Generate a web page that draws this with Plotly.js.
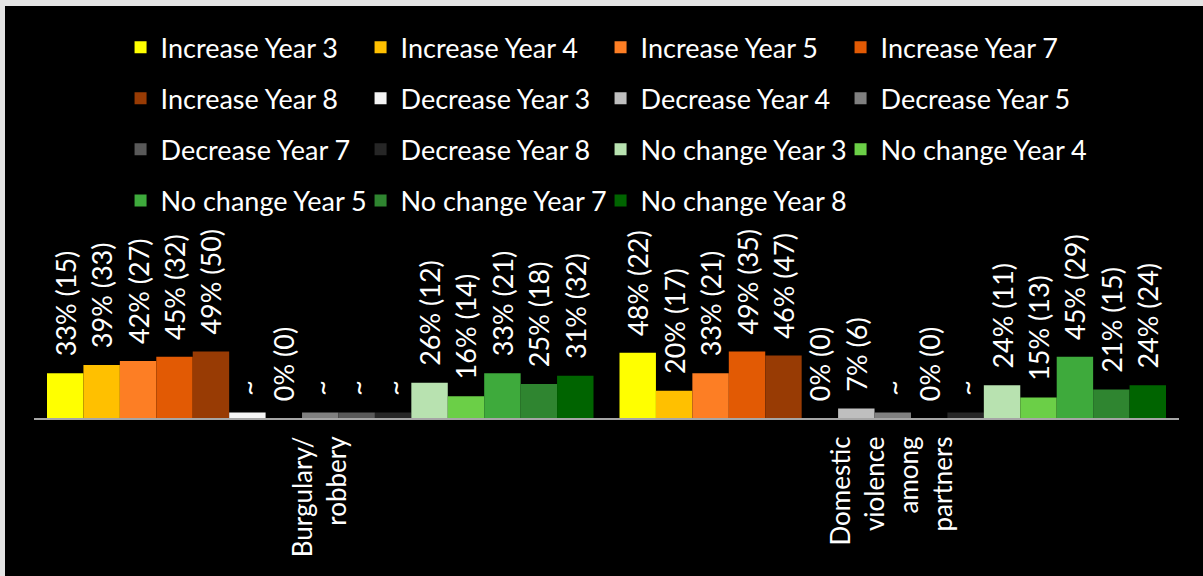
<!DOCTYPE html>
<html>
<head>
<meta charset="utf-8">
<script src="https://cdn.plot.ly/plotly-3.0.1.min.js"></script>
<style>
  html, body { margin: 0; padding: 0; background: #e4e4e4; width: 1203px; height: 576px; overflow: hidden; }
  #chart { position: absolute; left: 5px; top: 6px; width: 1198px; height: 570px; }
</style>
</head>
<body>
<div id="chart"></div>
<script>
// Categories (x axis)
const categories = ["Burgulary/<br>robbery", "Domestic<br>violence<br>among<br>partners"];

// Series names
const seriesNames = [
  "Increase Year 3", "Increase Year 4", "Increase Year 5", "Increase Year 7",
  "Increase Year 8", "Decrease Year 3", "Decrease Year 4", "Decrease Year 5",
  "Decrease Year 7", "Decrease Year 8", "No change Year 3", "No change Year 4",
  "No change Year 5", "No change Year 7", "No change Year 8"
];

// Percent values [Burglary, Domestic violence]
const increaseY3 = [33, 48];
const increaseY4 = [39, 20];
const increaseY5 = [42, 33];
const increaseY7 = [45, 49];
const increaseY8 = [49, 46];
const decreaseY3 = [4, 0];
const decreaseY4 = [0, 7];
const decreaseY5 = [4, 4];
const decreaseY7 = [4, 0];
const decreaseY8 = [4, 4];
const noChangeY3 = [26, 24];
const noChangeY4 = [16, 15];
const noChangeY5 = [33, 45];
const noChangeY7 = [25, 21];
const noChangeY8 = [31, 24];

// Bar labels [Burglary, Domestic violence]
const labelsIncY3 = ["33% (15)", "48% (22)"];
const labelsIncY4 = ["39% (33)", "20% (17)"];
const labelsIncY5 = ["42% (27)", "33% (21)"];
const labelsIncY7 = ["45% (32)", "49% (35)"];
const labelsIncY8 = ["49% (50)", "46% (47)"];
const labelsDecY3 = ["~", "0% (0)"];
const labelsDecY4 = ["0% (0)", "7% (6)"];
const labelsDecY5 = ["~", "~"];
const labelsDecY7 = ["~", "0% (0)"];
const labelsDecY8 = ["~", "~"];
const labelsNcY3 = ["26% (12)", "24% (11)"];
const labelsNcY4 = ["16% (14)", "15% (13)"];
const labelsNcY5 = ["33% (21)", "45% (29)"];
const labelsNcY7 = ["25% (18)", "21% (15)"];
const labelsNcY8 = ["31% (32)", "24% (24)"];

const seriesValues = [increaseY3, increaseY4, increaseY5, increaseY7, increaseY8,
  decreaseY3, decreaseY4, decreaseY5, decreaseY7, decreaseY8,
  noChangeY3, noChangeY4, noChangeY5, noChangeY7, noChangeY8];
const seriesLabels = [labelsIncY3, labelsIncY4, labelsIncY5, labelsIncY7, labelsIncY8,
  labelsDecY3, labelsDecY4, labelsDecY5, labelsDecY7, labelsDecY8,
  labelsNcY3, labelsNcY4, labelsNcY5, labelsNcY7, labelsNcY8];

const colors = [
  "#FFFF00", "#FFC000", "#FD7E24", "#E25A04", "#983B04",
  "#F4F4F4", "#BFBFBF", "#808080", "#595959", "#262626",
  "#B8E2B0", "#6BCF47", "#3EAA3C", "#2F8530", "#006400"
];

const FONT = "Lato, 'Open Sans', sans-serif";
const NCOLS = 4;
const legendNames = ["legend", "legend2", "legend3", "legend4"];
const pad = "\u00a0\u00a0";

// Legend laid out in 4 columns (one vertical legend per column), row-major order
const traces = seriesNames.map((name, i) => ({
  type: "bar",
  name: name,
  x: categories,
  y: seriesValues[i],
  text: seriesLabels[i].map(t => pad + t),
  textposition: "outside",
  textangle: -90,
  constraintext: "none",
  cliponaxis: false,
  textfont: { family: FONT, size: 27, color: "#FFFFFF" },
  marker: { color: colors[i], line: { width: 0 } },
  legend: legendNames[i % NCOLS],
  legendgroup: "g" + i,
  hoverinfo: "skip"
}));

function mkLegend(col) {
  return {
    orientation: "v",
    x: 0.0756 + col * 240 / 1145, xanchor: "left",
    y: 2.194, yanchor: "top",
    bgcolor: "rgba(0,0,0,0)",
    font: { family: FONT, size: 27, color: "#FFFFFF" },
    itemwidth: 30,
    tracegroupgap: 13,
    traceorder: "grouped"
  };
}

const layout = {
  width: 1198,
  height: 570,
  paper_bgcolor: "#000000",
  plot_bgcolor: "#000000",
  margin: { l: 29, r: 24, t: 232, b: 158, pad: 0 },
  barmode: "group",
  bargap: 0.0454,
  bargroupgap: 0,
  showlegend: true,
  legend: mkLegend(0),
  legend2: mkLegend(1),
  legend3: mkLegend(2),
  legend4: mkLegend(3),
  xaxis: {
    type: "category",
    range: [-0.5, 1.5],
    showline: true,
    linecolor: "#A6A6A6",
    linewidth: 2,
    showgrid: false,
    zeroline: false,
    ticks: "",
    tickangle: -90,
    ticklabelstandoff: 6,
    tickfont: { family: FONT, size: 26, color: "#FFFFFF" },
    fixedrange: true
  },
  yaxis: {
    range: [0, 132.4],
    visible: false,
    showgrid: false,
    zeroline: false,
    fixedrange: true
  },
  font: { family: FONT, color: "#FFFFFF" }
};

Plotly.newPlot("chart", traces, layout, { displayModeBar: false, staticPlot: true });
</script>
</body>
</html>
